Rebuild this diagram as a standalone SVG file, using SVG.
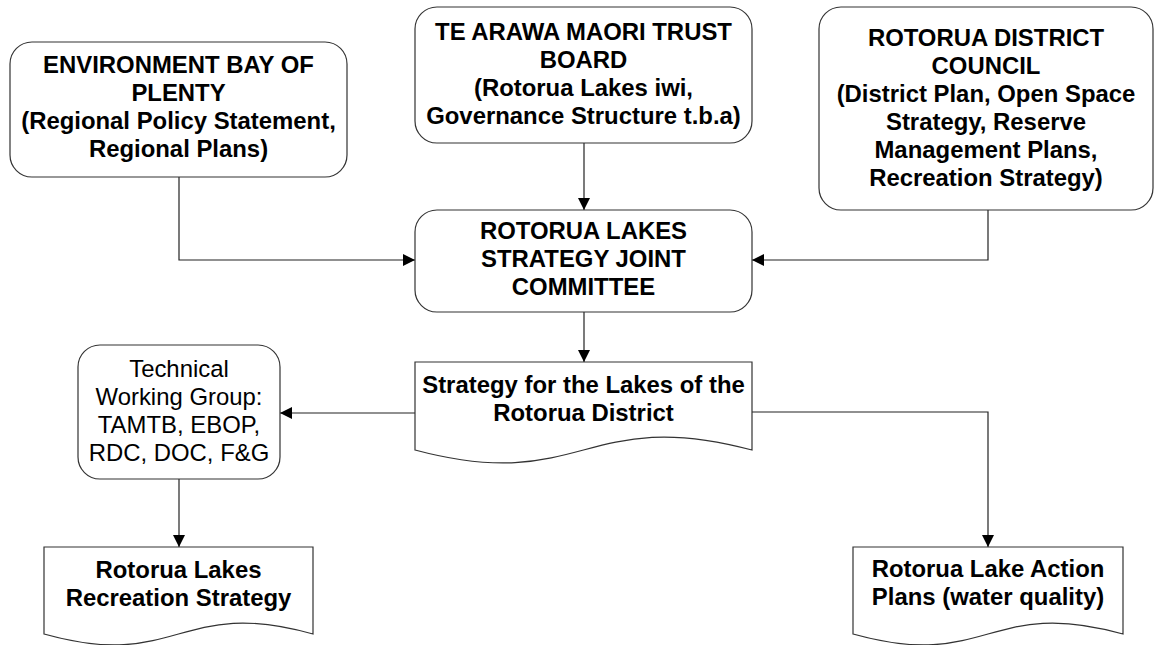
<svg xmlns="http://www.w3.org/2000/svg" width="1156" height="645" viewBox="0 0 1156 645">
<style>
.box{fill:#fff;stroke:#333;stroke-width:1.2}
.t{font-family:"Liberation Sans",Arial,sans-serif;font-size:23.9px;font-weight:bold;fill:#000;text-anchor:middle}
.r{font-weight:normal}
.c{fill:none;stroke:#222;stroke-width:1.2}
</style>
<defs>
<marker id="ah" viewBox="0 0 12 12" refX="12" refY="6" markerWidth="12" markerHeight="12" markerUnits="userSpaceOnUse" orient="auto">
<path d="M0,0 L12,6 L0,12 Z" fill="#000"/>
</marker>
</defs>
<rect width="1156" height="645" fill="#fff"/>
<g id="connectors">
<path class="c" d="M179,177 V260 H415" marker-end="url(#ah)"/>
<path class="c" d="M584,143 V210" marker-end="url(#ah)"/>
<path class="c" d="M988,210 V260 H752" marker-end="url(#ah)"/>
<path class="c" d="M584,312 V362" marker-end="url(#ah)"/>
<path class="c" d="M415,413 H280" marker-end="url(#ah)"/>
<path class="c" d="M752,412 H988 V547" marker-end="url(#ah)"/>
<path class="c" d="M179,479 V547" marker-end="url(#ah)"/>
</g>
<g id="ebop">
<rect class="box" x="10" y="42" width="337" height="135" rx="22"/>
<text class="t" x="178.5" y="73">ENVIRONMENT BAY OF</text>
<text class="t" x="178.5" y="101">PLENTY</text>
<text class="t" x="178.5" y="129">(Regional Policy Statement,</text>
<text class="t" x="178.5" y="157">Regional Plans)</text>
</g>
<g id="tamtb">
<rect class="box" x="415" y="7" width="337" height="136" rx="22"/>
<text class="t" x="583.5" y="40">TE ARAWA MAORI TRUST</text>
<text class="t" x="583.5" y="68">BOARD</text>
<text class="t" x="583.5" y="96">(Rotorua Lakes iwi,</text>
<text class="t" x="583.5" y="124">Governance Structure t.b.a)</text>
</g>
<g id="rdc">
<rect class="box" x="819" y="7" width="334" height="203" rx="22"/>
<text class="t" x="986" y="46">ROTORUA DISTRICT</text>
<text class="t" x="986" y="74">COUNCIL</text>
<text class="t" x="986" y="102">(District Plan, Open Space</text>
<text class="t" x="986" y="130">Strategy, Reserve</text>
<text class="t" x="986" y="158">Management Plans,</text>
<text class="t" x="986" y="186">Recreation Strategy)</text>
</g>
<g id="committee">
<rect class="box" x="415" y="210" width="337" height="102" rx="22"/>
<text class="t" x="583.5" y="239">ROTORUA LAKES</text>
<text class="t" x="583.5" y="267">STRATEGY JOINT</text>
<text class="t" x="583.5" y="295">COMMITTEE</text>
</g>
<g id="strategy">
<path class="box" d="M415,362 H752 V450 C583.5,405 583.5,495 415,450 Z"/>
<text class="t" x="583.5" y="393">Strategy for the Lakes of the</text>
<text class="t" x="583.5" y="421">Rotorua District</text>
</g>
<g id="twg">
<rect class="box" x="78" y="345" width="202" height="134" rx="22"/>
<text class="t r" x="179" y="377">Technical</text>
<text class="t r" x="179" y="405">Working Group:</text>
<text class="t r" x="179" y="433">TAMTB, EBOP,</text>
<text class="t r" x="179" y="461">RDC, DOC, F&amp;G</text>
</g>
<g id="recreation">
<path class="box" d="M44,547 H313 V634 C178.5,596 178.5,672 44,634 Z"/>
<text class="t" x="178.5" y="578">Rotorua Lakes</text>
<text class="t" x="178.5" y="606">Recreation Strategy</text>
</g>
<g id="action">
<path class="box" d="M853,547 H1123 V634 C988,596 988,672 853,634 Z"/>
<text class="t" x="988" y="577">Rotorua Lake Action</text>
<text class="t" x="988" y="605">Plans (water quality)</text>
</g>
</svg>
